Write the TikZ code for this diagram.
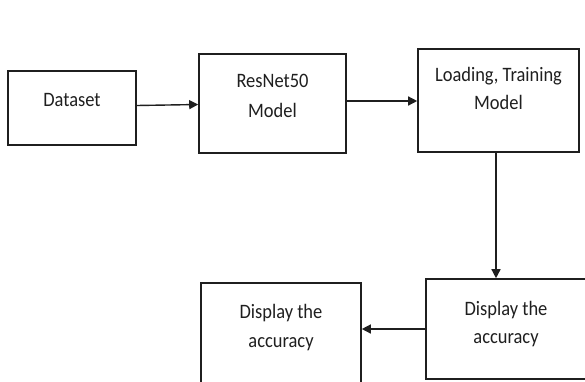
\documentclass[tikz,border=0pt]{standalone}
\usepackage{fontspec}
\setmainfont[FakeStretch=0.9]{Carlito}
\usetikzlibrary{arrows.meta}
\begin{document}
\begin{tikzpicture}[x=1pt,y=-1pt,
  box/.style={draw=black!88,line width=1.6pt,inner sep=0pt},
  lbl/.style={anchor=base,inner sep=0pt,font=\fontsize{20.5}{24}\selectfont,text=black!88},
  conn/.style={draw=black!88,line width=1.4pt,-{Triangle[length=9pt,width=9pt]}}]
\clip (0,0) rectangle (585,381);
\fill[white] (0,0) rectangle (585,381);
% boxes
\node[box,minimum width=128pt,minimum height=74pt] (ds) at (72,108) {};
\node[box,minimum width=147pt,minimum height=99pt] (rn) at (272.5,103.5) {};
\node[box,minimum width=161pt,minimum height=103pt] (ld) at (498.5,100.5) {};
\node[box,minimum width=160pt,minimum height=100pt] (dr) at (506,329) {};
\node[box,minimum width=160pt,minimum height=104pt] (dl) at (281,335) {};
% texts
\node[lbl] (dsA) at (72,106) {Dataset};
\node[lbl] (rnA) at (272.5,87) {ResNet50};
\node[lbl] (rnB) at (272.5,117) {Model};
\node[lbl] (ldA) at (498.5,81) {Loading, Training};
\node[lbl] (ldB) at (498.5,109) {Model};
\node[lbl] (drA) at (506,315) {Display the};
\node[lbl] (drB) at (506,343) {accuracy};
\node[lbl] (dlA) at (281,318) {Display the};
\node[lbl] (dlB) at (281,347) {accuracy};
% connectors
\draw[conn] (ds.east |- 0,105.5) -- (rn.west |- 0,104.5);
\draw[conn] (rn.east |- 0,101) -- (ld.west |- 0,101);
\draw[conn] (ld.south -| 496,0) -- (dr.north -| 496,0);
\draw[conn] (dr.west |- 0,329) -- (dl.east |- 0,329);
\end{tikzpicture}
\end{document}
